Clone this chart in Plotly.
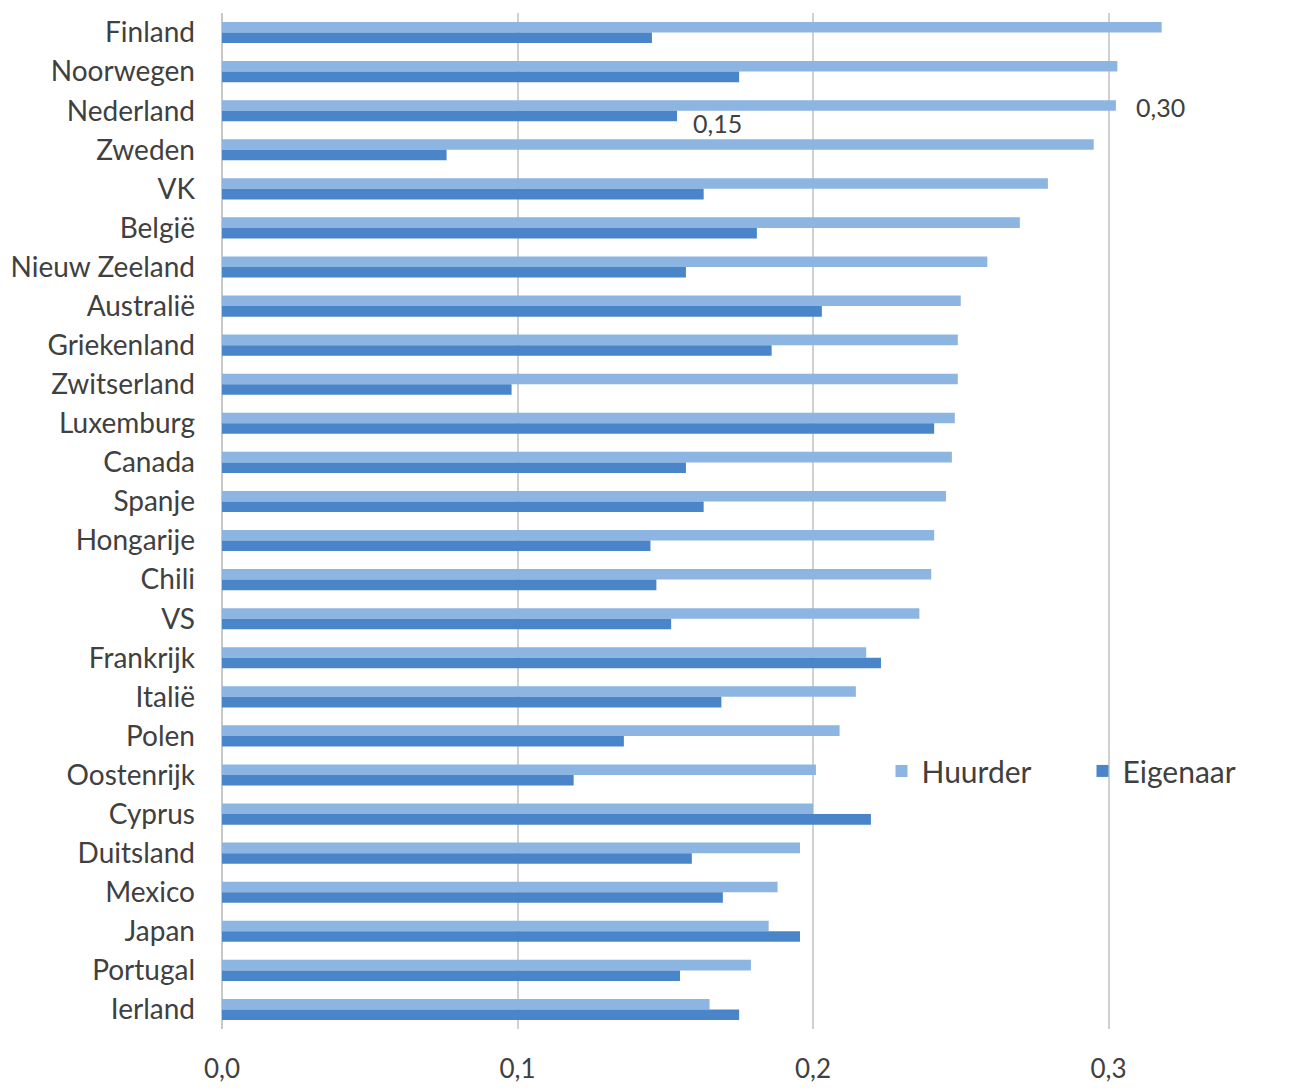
import plotly.graph_objects as go

countries = ["Finland", "Noorwegen", "Nederland", "Zweden", "VK", "België", "Nieuw Zeeland",
             "Australië", "Griekenland", "Zwitserland", "Luxemburg", "Canada", "Spanje",
             "Hongarije", "Chili", "VS", "Frankrijk", "Italië", "Polen", "Oostenrijk",
             "Cyprus", "Duitsland", "Mexico", "Japan", "Portugal", "Ierland"]
huurder = [0.318, 0.303, 0.3025, 0.295, 0.2795, 0.270, 0.259, 0.250, 0.249, 0.249, 0.248,
           0.247, 0.245, 0.241, 0.240, 0.236, 0.218, 0.2145, 0.209, 0.201, 0.200, 0.1956,
           0.188, 0.185, 0.179, 0.165]
eigenaar = [0.1455, 0.175, 0.154, 0.076, 0.163, 0.181, 0.157, 0.203, 0.186, 0.098, 0.241,
            0.157, 0.163, 0.145, 0.147, 0.152, 0.223, 0.169, 0.136, 0.119, 0.2196, 0.159,
            0.1695, 0.1956, 0.155, 0.175]
tick_vals = [0.0, 0.1, 0.2, 0.3]
tick_text = ["0,0", "0,1", "0,2", "0,3"]

LIGHT = "#8DB5E2"
DARK = "#4A85CA"
FONT = "Lato"
TXT = "#404040"

fig = go.Figure()
fig.add_trace(go.Bar(y=countries, x=huurder, orientation="h", name="Huurder",
                     marker=dict(color=LIGHT, line=dict(width=0))))
fig.add_trace(go.Bar(y=countries, x=eigenaar, orientation="h", name="Eigenaar",
                     marker=dict(color=DARK, line=dict(width=0))))

i = countries.index("Nederland")
fig.add_annotation(x=huurder[i], y="Nederland", text=f"{huurder[i]:.2f}".replace(".", ","),
                   xanchor="left", showarrow=False, xshift=18, yshift=4,
                   font=dict(family=FONT, size=25, color=TXT))
fig.add_annotation(x=eigenaar[i], y="Nederland", text=f"{eigenaar[i]:.2f}".replace(".", ","),
                   xanchor="left", showarrow=False, xshift=14, yshift=-12,
                   font=dict(family=FONT, size=25, color=TXT))

fig.update_layout(
    width=1299, height=1091,
    margin=dict(l=214, r=17, t=5, b=70, autoexpand=False),
    paper_bgcolor="white", plot_bgcolor="white",
    barmode="group", bargap=0.46, bargroupgap=0,
    font=dict(family=FONT, size=27, color=TXT),
    separators=", ",
    legend=dict(orientation="h", x=0.6175, y=0.254, xanchor="left", yanchor="middle",
                font=dict(family=FONT, size=30, color=TXT),
                bgcolor="rgba(255,255,255,0)", entrywidth=156, entrywidthmode="pixels"),
    showlegend=True,
)
fig.update_xaxes(range=[0, (1299 - 17 - 214) / 2955], tickvals=tick_vals, ticktext=tick_text,
                 showgrid=True, gridcolor="#D0D0D0", gridwidth=2,
                 zeroline=True, zerolinecolor="#C8C8C8", zerolinewidth=2,
                 showline=False, ticks="", ticklabelstandoff=22, automargin=False,
                 tickfont=dict(family=FONT, size=26, color=TXT))
fig.update_yaxes(autorange="reversed", showgrid=False, zeroline=False, showline=False,
                 ticks="", ticklabelstandoff=26, automargin=False,
                 tickfont=dict(family=FONT, size=28, color=TXT))

fig.write_html("out.html")
